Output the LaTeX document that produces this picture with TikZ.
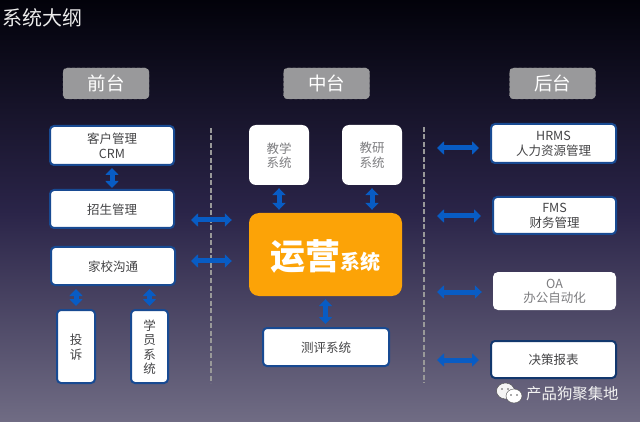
\documentclass[tikz,border=0pt]{standalone}
\usepackage{fontspec}
\setmainfont{Noto Sans CJK SC}
\usepackage{tikz}
\usetikzlibrary{arrows.meta,positioning}
\definecolor{bgtop}{RGB}{2,2,10}
\definecolor{bgmid}{RGB}{42,36,72}
\definecolor{bgbot}{RGB}{112,108,132}
\definecolor{tagfill}{RGB}{153,153,155}
\definecolor{boxline}{RGB}{24,74,146}
\definecolor{arrowblue}{RGB}{8,92,196}
\definecolor{opsorange}{RGB}{252,163,7}
\definecolor{inktext}{RGB}{68,68,70}
\definecolor{softtext}{RGB}{125,125,128}

\begin{document}
\begin{tikzpicture}[x=1pt, y=-1pt,
    tag/.style={rectangle, rounded corners=4pt, draw=gray!75!white, densely dashed, fill=tagfill, text=white,
        minimum width=86pt, minimum height=31pt, inner sep=0pt, font=\fontsize{18.5}{20}\selectfont},
    sysbox/.style={rectangle, rounded corners=4pt, draw=boxline, line width=2pt, fill=white, text=inktext,
        inner sep=0pt, align=center, text depth=0pt, font=\fontsize{12.5}{14.5}\selectfont},
    softbox/.style={rectangle, rounded corners=7pt, fill=white, text=softtext,
        inner sep=0pt, align=center, text depth=0pt, font=\fontsize{12.5}{14.5}\selectfont},
    dblarrow/.style={draw=arrowblue, line width=5pt, {Stealth[length=7pt,width=13pt,inset=0pt]}-{Stealth[length=7pt,width=13pt,inset=0pt]}},
    sepline/.style={draw=gray!80!white, line width=1.8pt, dash pattern=on 5pt off 2.5pt}
]
\path[use as bounding box, top color=bgtop, bottom color=bgbot, middle color=bgmid] (0,0) rectangle (640,422);

\node[text=white!85!gray, anchor=west, inner sep=0pt, font=\fontsize{20}{22}\selectfont] (title) at (2,18) {系统大纲};

\foreach \i/\x/\lab in {front/106/前台, middle/326.5/中台, back/552.5/后台} {
    \node[tag] (Tag\i) at (\x,83.5) {\lab};
}

% left column
\node[sysbox, minimum width=124pt, minimum height=39pt] (crm) at (112,145.5) {客户管理\\CRM};
\node[sysbox, minimum width=124pt, minimum height=38pt] (enrol) at (112,209) {招生管理};
\node[sysbox, minimum width=124pt, minimum height=38pt] (home) at (113,266) {家校沟通};
\node[sysbox, minimum width=38pt, minimum height=73pt] (complain) at (76,346.5) {投\\诉};
\node[sysbox, minimum width=37pt, minimum height=73pt] (student) at (149.5,346.5) {学\\员\\系\\统};

% middle column
\node[softbox, minimum width=60pt, minimum height=60pt] (teach) at (279,155) {教学\\系统};
\node[softbox, minimum width=60pt, minimum height=60pt] (research) at (372,155) {教研\\系统};
\node[rectangle, rounded corners=10pt, fill=opsorange, text=white, inner sep=0pt, text depth=0pt,
    minimum width=153pt, minimum height=83pt, font=\bfseries] (ops) at (325.5,254.5)
    {\fontsize{35}{37}\selectfont 运营\fontsize{20}{22}\selectfont 系统};
\node[sysbox, minimum width=126pt, minimum height=38pt] (test) at (326,347) {测评系统};

% right column
\node[sysbox, minimum width=125pt, minimum height=39pt] (hrms) at (553.5,143.5) {HRMS\\人力资源管理};
\node[sysbox, minimum width=123pt, minimum height=37pt] (fms) at (554.5,215.5) {FMS\\财务管理};
\node[softbox, rounded corners=5pt, minimum width=123pt, minimum height=38pt] (oa) at (554.5,291) {OA\\办公自动化};
\node[sysbox, minimum width=125pt, minimum height=37pt, draw=boxline!75!black] (report) at (553.5,359.5) {决策报表};

% separators
\coordinate (SepLtop) at (211,128);
\coordinate (SepLbot) at (211,383);
\coordinate (SepRtop) at (424,127);
\coordinate (SepRbot) at (424,383);
\draw[sepline] (SepLtop) -- (SepLbot);
\draw[sepline] (SepRtop) -- (SepRbot);

% arrows inside the columns
\draw[dblarrow, shorten >=1pt, shorten <=2pt] (crm) -- (crm |- enrol.north);
\draw[dblarrow, shorten >=3pt, shorten <=3pt] (complain.north) -- (complain.north |- home.south);
\draw[dblarrow, shorten >=3pt, shorten <=3pt] (student.north) -- (student.north |- home.south);
\draw[dblarrow, shorten >=3pt, shorten <=3pt] (teach.south) -- (teach.south |- ops.north);
\draw[dblarrow, shorten >=3pt, shorten <=3pt] (research.south) -- (research.south |- ops.north);
\draw[dblarrow, shorten >=3pt, shorten <=3pt] (ops.south) -- (ops.south |- test.north);

% arrows across the separators
\coordinate (OpsA) at (ops.west |- 0,220);
\coordinate (OpsB) at (ops.west |- 0,261);
\draw[dblarrow, shorten >=17pt, shorten <=16pt] (OpsA -| enrol.east) -- (OpsA);
\draw[dblarrow, shorten >=17pt, shorten <=15pt] (OpsB -| home.east) -- (OpsB);
\foreach \n/\y in {hrms/148, fms/216, oa/292, report/360} {
    \coordinate (Hub\n) at (SepRtop |- 0,\y);
    \draw[dblarrow, shorten >=11pt, shorten <=13pt] (Hub\n) -- (Hub\n -| \n.west);
}

% watermark
\fill[white!92!gray, draw=gray!60!black, line width=0.4pt] (505.5,391) ellipse (9pt and 8pt);
\fill[white, draw=gray!60!black, line width=0.4pt] (514,396) ellipse (8pt and 7pt);
\foreach \x/\y in {502/389, 508/389, 511/395, 517/395}
    \fill[gray!70!black] (\x,\y) circle (0.9pt);
\node[text=white!90!gray, anchor=west, inner sep=0pt, font=\fontsize{15.4}{17}\selectfont] (mark) at (526,394) {产品狗聚集地};
\end{tikzpicture}
\end{document}
